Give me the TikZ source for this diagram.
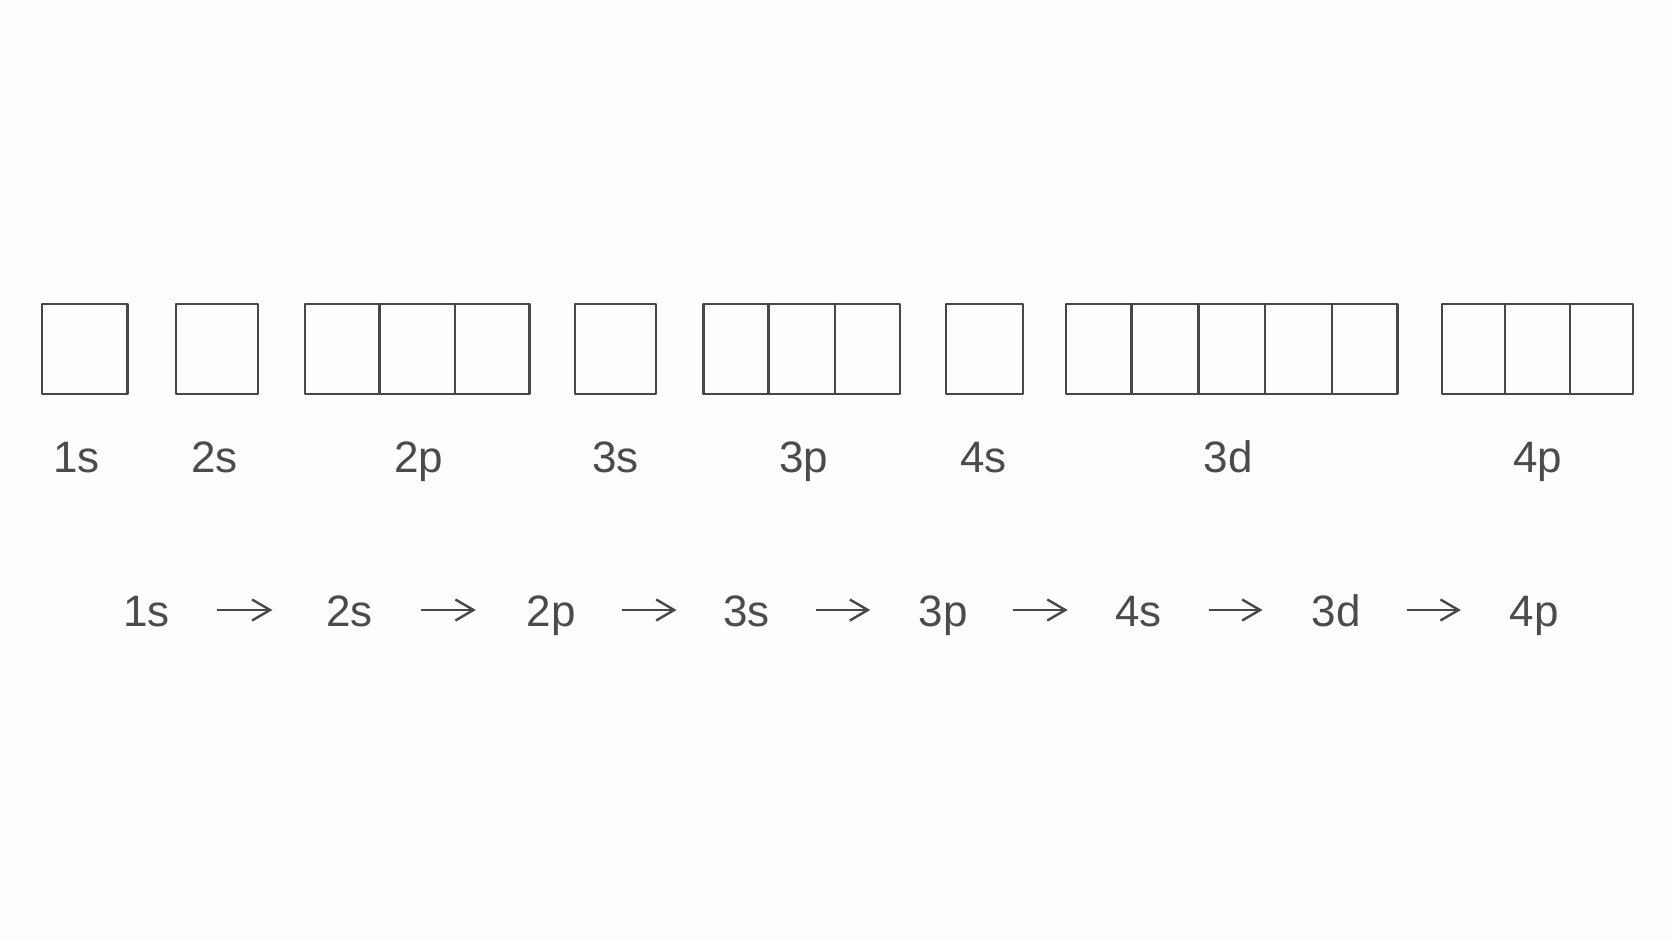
\documentclass[tikz,border=0pt]{standalone}
\usepackage{fontspec}
\setmainfont{Liberation Sans}
\usetikzlibrary{calc,arrows.meta}
\definecolor{ink}{HTML}{474747}
\definecolor{txt}{HTML}{4B4B4B}
\definecolor{bg}{HTML}{FDFDFD}
\begin{document}
\begin{tikzpicture}[x=1pt,y=-1pt,
  obox/.style={draw=ink, line width=2.4pt, rectangle, minimum height=90pt, inner sep=0pt, line join=round},
  lab/.style={text=txt, font=\fontsize{44pt}{48pt}\selectfont, inner sep=0pt, text height=32pt, text depth=0pt},
  divline/.style={draw=ink, line width=2.4pt},
  arr/.style={draw=ink, line width=2.4pt, -{Straight Barb[length=18pt,width=21pt,line width=2.4pt]}}
]
\fill[bg] (0,0) rectangle (1672,941);
\useasboundingbox (0,0) rectangle (1672,941);

% orbital boxes
\node[obox, minimum width=85.5pt] (b1s) at (84.75,349) {};
\node[obox, minimum width=82pt]   (b2s) at (217,349) {};
\node[obox, minimum width=224.6pt] (b2p) at (417.3,349) {};
\node[obox, minimum width=81pt]   (b3s) at (615.5,349) {};
\node[obox, minimum width=196.7pt] (b3p) at (801.65,349) {};
\node[obox, minimum width=77pt]   (b4s) at (984.2,349) {};
\node[obox, minimum width=331.5pt] (b3d) at (1231.75,349) {};
\node[obox, minimum width=191pt]  (b4p) at (1537.5,349) {};

\foreach \b in {b2p,b3p,b4p}{
  \foreach \i in {1,2}{
    \draw[divline] ($(\b.north west)!\i/3!(\b.north east)$) -- ($(\b.south west)!\i/3!(\b.south east)$);
  }
}
\foreach \i in {1,2,3,4}{
  \draw[divline] ($(b3d.north west)!\i/5!(b3d.north east)$) -- ($(b3d.south west)!\i/5!(b3d.south east)$);
}

% labels under boxes (baseline 472 -> centre 456)
\node[lab] (t1s) at (76.5,456) {1s};
\node[lab] (t2s) at (214.5,456) {2s};
\node[lab] (t2p) at (418.5,456) {2p};
\node[lab] (t3s) at (615.5,456) {3s};
\node[lab] (t3p) at (803.5,456) {3p};
\node[lab] (t4s) at (983.5,456) {4s};
\node[lab] (t3d) at (1228,456) {3d};
\node[lab] (t4p) at (1537.5,456) {4p};

% sequence row (baseline 626 -> centre 610)
\node[lab] (l1s) at (146.5,610) {1s};
\node[lab] (l2s) at (349.5,610) {2s};
\node[lab] (l2p) at (551,610) {2p};
\node[lab] (l3s) at (746.5,610) {3s};
\node[lab] (l3p) at (943,610) {3p};
\node[lab] (l4s) at (1138.5,610) {4s};
\node[lab] (l3d) at (1336,610) {3d};
\node[lab] (l4p) at (1534,610) {4p};

\draw[arr, shorten <=47pt,   shorten >=53.6pt] (l1s.east) -- (l2s.west);
\draw[arr, shorten <=48pt,   shorten >=50.5pt] (l2s.east) -- (l2p.west);
\draw[arr, shorten <=46.5pt, shorten >=46.5pt] (l2p.east) -- (l3s.west);
\draw[arr, shorten <=46pt,   shorten >=48.1pt] (l3s.east) -- (l3p.west);
\draw[arr, shorten <=45pt,   shorten >=47.4pt] (l3p.east) -- (l4s.west);
\draw[arr, shorten <=46.6pt, shorten >=48.8pt] (l4s.east) -- (l3d.west);
\draw[arr, shorten <=46.2pt, shorten >=48.5pt] (l3d.east) -- (l4p.west);
\end{tikzpicture}
\end{document}
